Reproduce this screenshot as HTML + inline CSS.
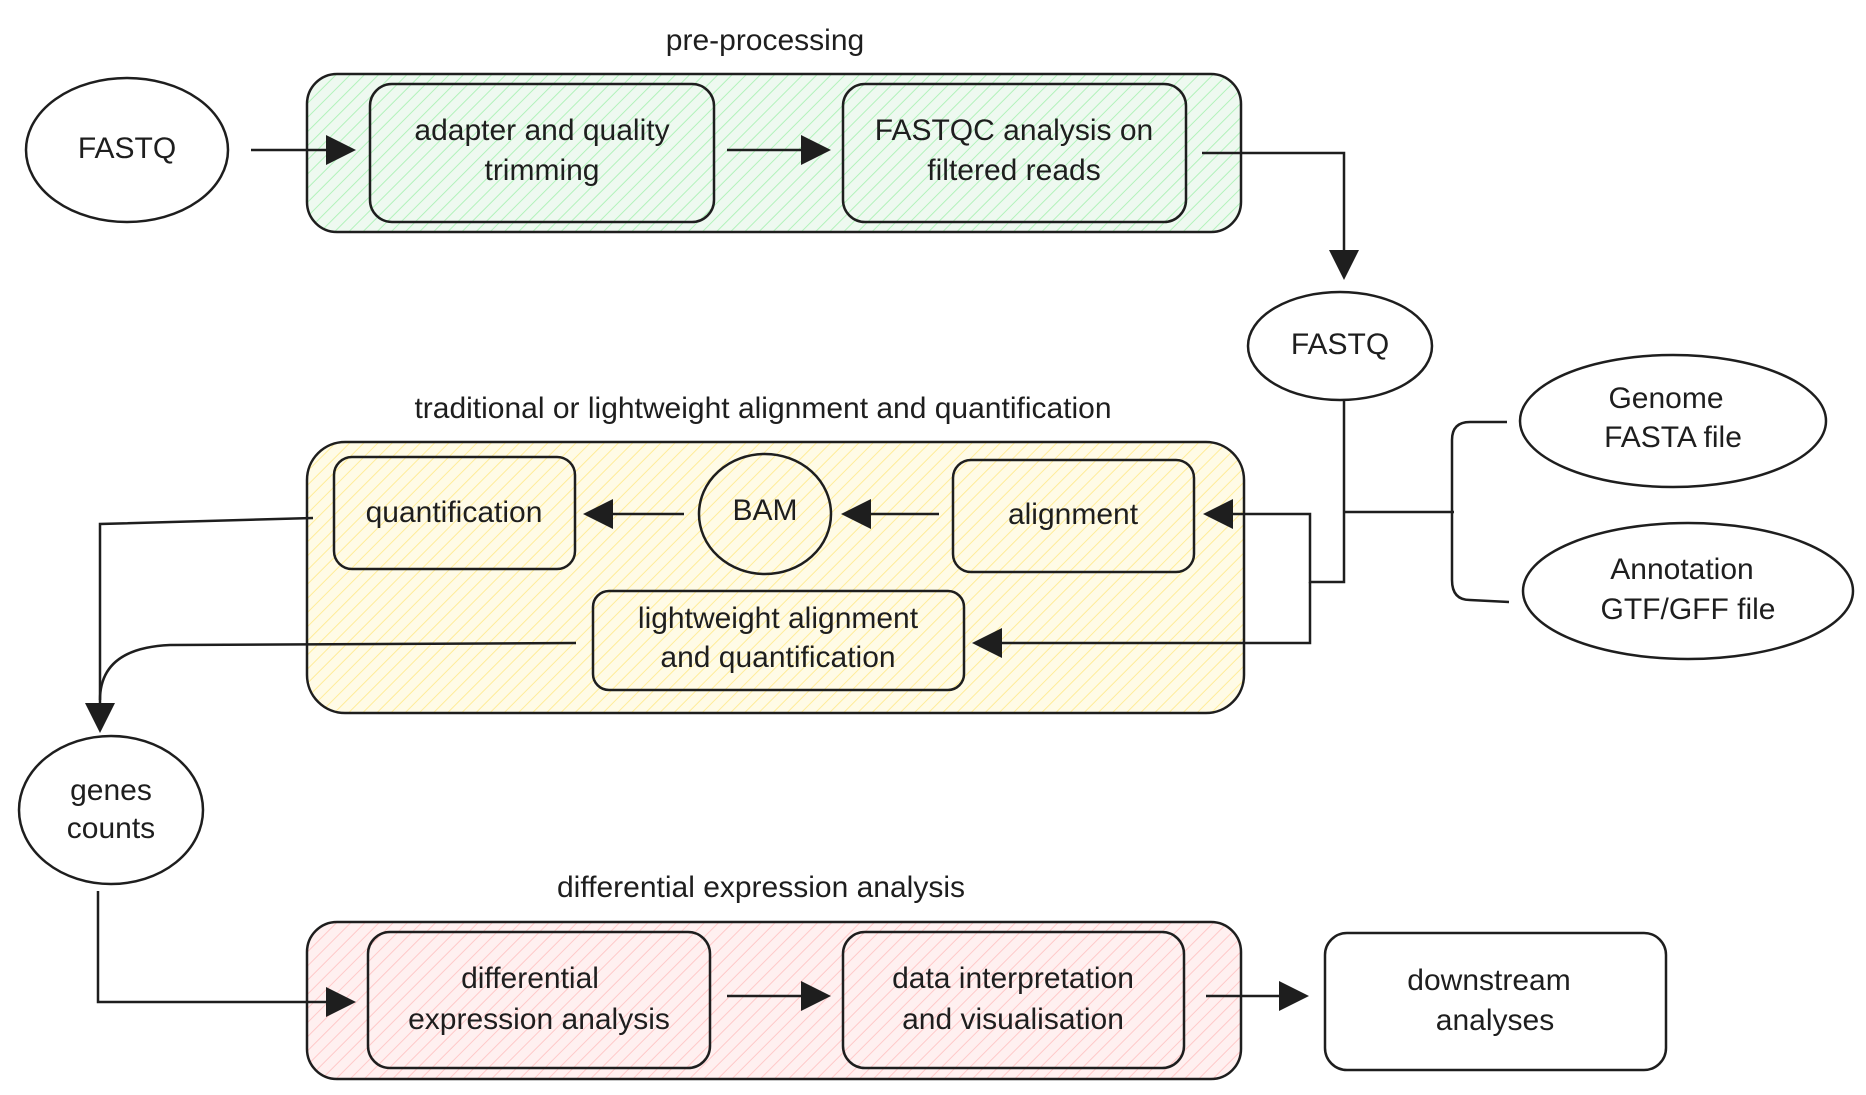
<!DOCTYPE html>
<html><head><meta charset="utf-8"><style>
html,body{margin:0;padding:0;background:#fff;}
svg{display:block}
text{font-family:"Liberation Sans",sans-serif;font-size:30px;fill:#1e1e1e;text-anchor:middle;dominant-baseline:middle}
</style></head><body>
<svg width="1866" height="1095" viewBox="0 0 1866 1095" xmlns="http://www.w3.org/2000/svg">
<defs>
<pattern id="hg" width="10" height="10" patternUnits="userSpaceOnUse" patternTransform="rotate(45)"><rect width="10" height="10" fill="#eef9f0"/><line x1="0" y1="0" x2="0" y2="10" stroke="#b2f2bb" stroke-width="2"/></pattern>
<pattern id="hy" width="10" height="10" patternUnits="userSpaceOnUse" patternTransform="rotate(45)"><rect width="10" height="10" fill="#fffbe6"/><line x1="0" y1="0" x2="0" y2="10" stroke="#ffec99" stroke-width="2"/></pattern>
<pattern id="hr" width="10" height="10" patternUnits="userSpaceOnUse" patternTransform="rotate(45)"><rect width="10" height="10" fill="#fff0f0"/><line x1="0" y1="0" x2="0" y2="10" stroke="#ffc9c9" stroke-width="2"/></pattern>
<marker id="A" viewBox="0 0 10 10" markerWidth="30" markerHeight="30" refX="9" refY="5" orient="auto" markerUnits="userSpaceOnUse"><path d="M0,0 L10,5 L0,10 z" fill="#1e1e1e"/></marker>
</defs>
<g stroke="#1e1e1e" stroke-width="2.5" fill="none">
<rect x="307" y="74" width="934" height="158" rx="30" fill="url(#hg)"/>
<rect x="307" y="442" width="937" height="271" rx="38" fill="url(#hy)"/>
<rect x="307" y="922" width="934" height="157" rx="30" fill="url(#hr)"/>
<rect x="370" y="84" width="344" height="138" rx="22"/>
<rect x="843" y="84" width="343" height="138" rx="22"/>
<rect x="334" y="457" width="241" height="112" rx="18"/>
<rect x="953" y="460" width="241" height="112" rx="18"/>
<rect x="593" y="591" width="371" height="99" rx="16"/>
<rect x="368" y="932" width="342" height="136" rx="22"/>
<rect x="843" y="932" width="341" height="136" rx="22"/>
<rect x="1325" y="933" width="341" height="137" rx="22"/>
<ellipse cx="127" cy="150" rx="101" ry="72"/>
<ellipse cx="1340" cy="346" rx="92" ry="54"/>
<ellipse cx="765" cy="514" rx="66" ry="60"/>
<ellipse cx="1673" cy="421" rx="153" ry="66"/>
<ellipse cx="1688" cy="591" rx="165" ry="68"/>
<ellipse cx="111" cy="810" rx="92" ry="74"/>
<line x1="251" y1="150" x2="353" y2="150" marker-end="url(#A)"/>
<line x1="727" y1="150" x2="828" y2="150" marker-end="url(#A)"/>
<polyline points="1202,153 1344,153 1344,277" marker-end="url(#A)"/>
<line x1="684" y1="514" x2="586" y2="514" marker-end="url(#A)"/>
<line x1="939" y1="514" x2="844" y2="514" marker-end="url(#A)"/>
<polyline points="1344,401 1344,582 1310,582 1310,514 1206,514" marker-end="url(#A)"/>
<polyline points="1310,582 1310,643 975,643" marker-end="url(#A)"/>
<path d="M1507,422 L1470,422 Q1452,422 1452,440 L1452,580 Q1452,600 1470,600 L1509,602"/>
<line x1="1344" y1="512" x2="1454" y2="512"/>
<polyline points="313,518 100,524 100,730" marker-end="url(#A)"/>
<path d="M576,643 L170,645 Q100,648 100,700"/>
<polyline points="98,891 98,1002 353,1002" marker-end="url(#A)"/>
<line x1="727" y1="996" x2="828" y2="996" marker-end="url(#A)"/>
<line x1="1206" y1="996" x2="1306" y2="996" marker-end="url(#A)"/>
</g>
<text x="765" y="42">pre-processing</text>
<text x="763" y="410">traditional or lightweight alignment and quantification</text>
<text x="761" y="889">differential expression analysis</text>
<text x="127" y="150">FASTQ</text>
<text x="542" y="132">adapter and quality</text>
<text x="542" y="172">trimming</text>
<text x="1014" y="132">FASTQC analysis on</text>
<text x="1014" y="172">filtered reads</text>
<text x="1340" y="346">FASTQ</text>
<text x="454" y="514">quantification</text>
<text x="765" y="512">BAM</text>
<text x="1073" y="516">alignment</text>
<text x="778" y="620">lightweight alignment</text>
<text x="778" y="659">and quantification</text>
<text x="1666" y="400">Genome</text>
<text x="1673" y="439">FASTA file</text>
<text x="1682" y="571">Annotation</text>
<text x="1688" y="611">GTF/GFF file</text>
<text x="111" y="792">genes</text>
<text x="111" y="830">counts</text>
<text x="530" y="980">differential</text>
<text x="539" y="1021">expression analysis</text>
<text x="1013" y="980">data interpretation</text>
<text x="1013" y="1021">and visualisation</text>
<text x="1489" y="982">downstream</text>
<text x="1495" y="1022">analyses</text>
</svg>
</body></html>
